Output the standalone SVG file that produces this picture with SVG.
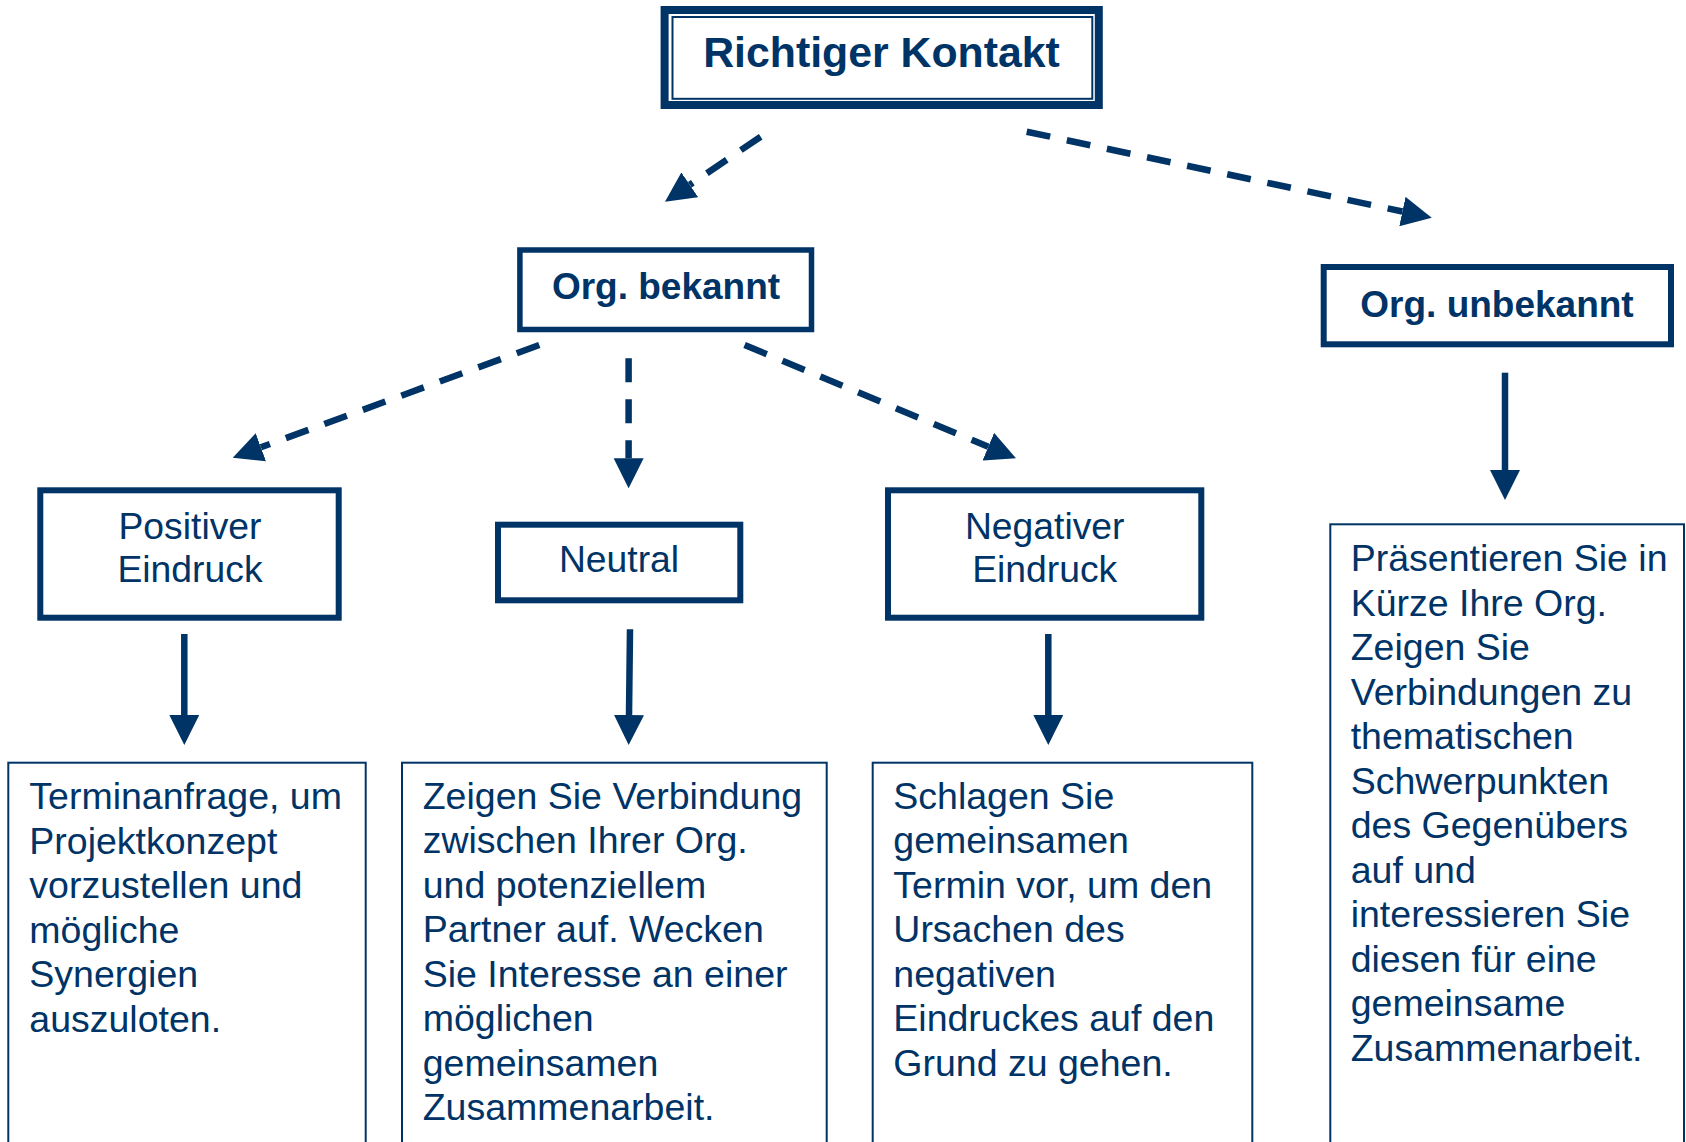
<svg xmlns="http://www.w3.org/2000/svg" width="1686" height="1142" viewBox="0 0 1686 1142">
<style>
text{font-family:"Liberation Sans",Arial,sans-serif;fill:#003366;}
.b{font-weight:bold;font-size:37px;text-anchor:middle;}
.t{font-weight:bold;font-size:42.8px;text-anchor:middle;}
.l{font-size:37.3px;text-anchor:middle;}
.p{font-size:37.5px;}
.box{fill:#fff;stroke:#003366;}
.thick{stroke-width:6;}
.thin{stroke-width:2;}
.c{fill:none;stroke:#003366;stroke-width:6.5;}
.d{stroke-dasharray:24 17;}
</style>
<defs>
<marker id="ah" markerUnits="userSpaceOnUse" markerWidth="30" markerHeight="30" viewBox="0 0 30 30" refX="0" refY="15" orient="auto">
<path d="M0,0 L30,15 L0,30 Z" fill="#003366"/>
</marker>
</defs>
<rect width="1686" height="1142" fill="#fff"/>
<g id="connectors">
<line class="c d" x1="760.7" y1="136.7" x2="689.8" y2="184.8" marker-end="url(#ah)"/>
<line class="c d" x1="1026.7" y1="131.7" x2="1402.4" y2="211.5" marker-end="url(#ah)"/>
<line class="c d" x1="539.3" y1="345" x2="260.9" y2="447.3" marker-end="url(#ah)"/>
<line class="c d" x1="628.6" y1="358.3" x2="628.6" y2="458.3" marker-end="url(#ah)"/>
<line class="c d" x1="744.6" y1="345" x2="988.3" y2="446.7" marker-end="url(#ah)"/>
<line class="c" x1="184.3" y1="634" x2="184.3" y2="715" marker-end="url(#ah)"/>
<line class="c" x1="630" y1="629.3" x2="629" y2="715" marker-end="url(#ah)"/>
<line class="c" x1="1048.3" y1="634" x2="1048.3" y2="715" marker-end="url(#ah)"/>
<line class="c" x1="1505" y1="372.7" x2="1505" y2="470" marker-end="url(#ah)"/>
</g>
<g id="richtiger-kontakt">
<rect class="box" x="664.6" y="10" width="434.2" height="95" stroke-width="8"/>
<rect fill="none" stroke="#003366" x="672.5" y="17" width="419.8" height="81.8" stroke-width="2"/>
<text class="t" x="881.5" y="66.7">Richtiger Kontakt</text>
</g>
<g id="org-bekannt">
<rect class="box" x="519.9" y="250" width="291.6" height="79.5" stroke-width="5.5"/>
<text class="b" x="666" y="299.3">Org. bekannt</text>
</g>
<g id="org-unbekannt">
<rect class="box" x="1323.7" y="267" width="347.3" height="77.3" stroke-width="6"/>
<text class="b" x="1497" y="316.7">Org. unbekannt</text>
</g>
<g id="positiver">
<rect class="box thick" x="40.3" y="490.3" width="298.4" height="127.4"/>
<text class="l" x="190" y="539">Positiver</text>
<text class="l" x="190" y="582.3">Eindruck</text>
</g>
<g id="neutral">
<rect class="box thick" x="498" y="524.7" width="242.3" height="75.6"/>
<text class="l" x="619" y="572.3">Neutral</text>
</g>
<g id="negativer">
<rect class="box thick" x="888" y="490.3" width="313.3" height="127.4"/>
<text class="l" x="1044.7" y="539">Negativer</text>
<text class="l" x="1044.7" y="582.3">Eindruck</text>
</g>
<g id="text-positiv">
<rect class="box thin" x="8.3" y="762.7" width="357.4" height="420"/>
<text class="p" x="29.3" y="809">Terminanfrage, um</text>
<text class="p" x="29.3" y="853.5">Projektkonzept</text>
<text class="p" x="29.3" y="898">vorzustellen und</text>
<text class="p" x="29.3" y="942.5">mögliche</text>
<text class="p" x="29.3" y="987">Synergien</text>
<text class="p" x="29.3" y="1031.5">auszuloten.</text>
</g>
<g id="text-neutral">
<rect class="box thin" x="402" y="762.7" width="424.7" height="420"/>
<text class="p" x="422.7" y="808.5">Zeigen Sie Verbindung</text>
<text class="p" x="422.7" y="853">zwischen Ihrer Org.</text>
<text class="p" x="422.7" y="897.5">und potenziellem</text>
<text class="p" x="422.7" y="942">Partner auf. Wecken</text>
<text class="p" x="422.7" y="986.5">Sie Interesse an einer</text>
<text class="p" x="422.7" y="1031">möglichen</text>
<text class="p" x="422.7" y="1075.5">gemeinsamen</text>
<text class="p" x="422.7" y="1120">Zusammenarbeit.</text>
</g>
<g id="text-negativ">
<rect class="box thin" x="872.7" y="762.7" width="379.6" height="420"/>
<text class="p" x="893.3" y="808.5">Schlagen Sie</text>
<text class="p" x="893.3" y="853">gemeinsamen</text>
<text class="p" x="893.3" y="897.5">Termin vor, um den</text>
<text class="p" x="893.3" y="942">Ursachen des</text>
<text class="p" x="893.3" y="986.5">negativen</text>
<text class="p" x="893.3" y="1031">Eindruckes auf den</text>
<text class="p" x="893.3" y="1075.5">Grund zu gehen.</text>
</g>
<g id="text-unbekannt">
<rect class="box thin" x="1330.3" y="524.3" width="353.7" height="660"/>
<text class="p" x="1350.7" y="571">Präsentieren Sie in</text>
<text class="p" x="1350.7" y="615.5">Kürze Ihre Org.</text>
<text class="p" x="1350.7" y="660">Zeigen Sie</text>
<text class="p" x="1350.7" y="704.5">Verbindungen zu</text>
<text class="p" x="1350.7" y="749">thematischen</text>
<text class="p" x="1350.7" y="793.5">Schwerpunkten</text>
<text class="p" x="1350.7" y="838">des Gegenübers</text>
<text class="p" x="1350.7" y="882.5">auf und</text>
<text class="p" x="1350.7" y="927">interessieren Sie</text>
<text class="p" x="1350.7" y="971.5">diesen für eine</text>
<text class="p" x="1350.7" y="1016">gemeinsame</text>
<text class="p" x="1350.7" y="1060.5">Zusammenarbeit.</text>
</g>
</svg>
